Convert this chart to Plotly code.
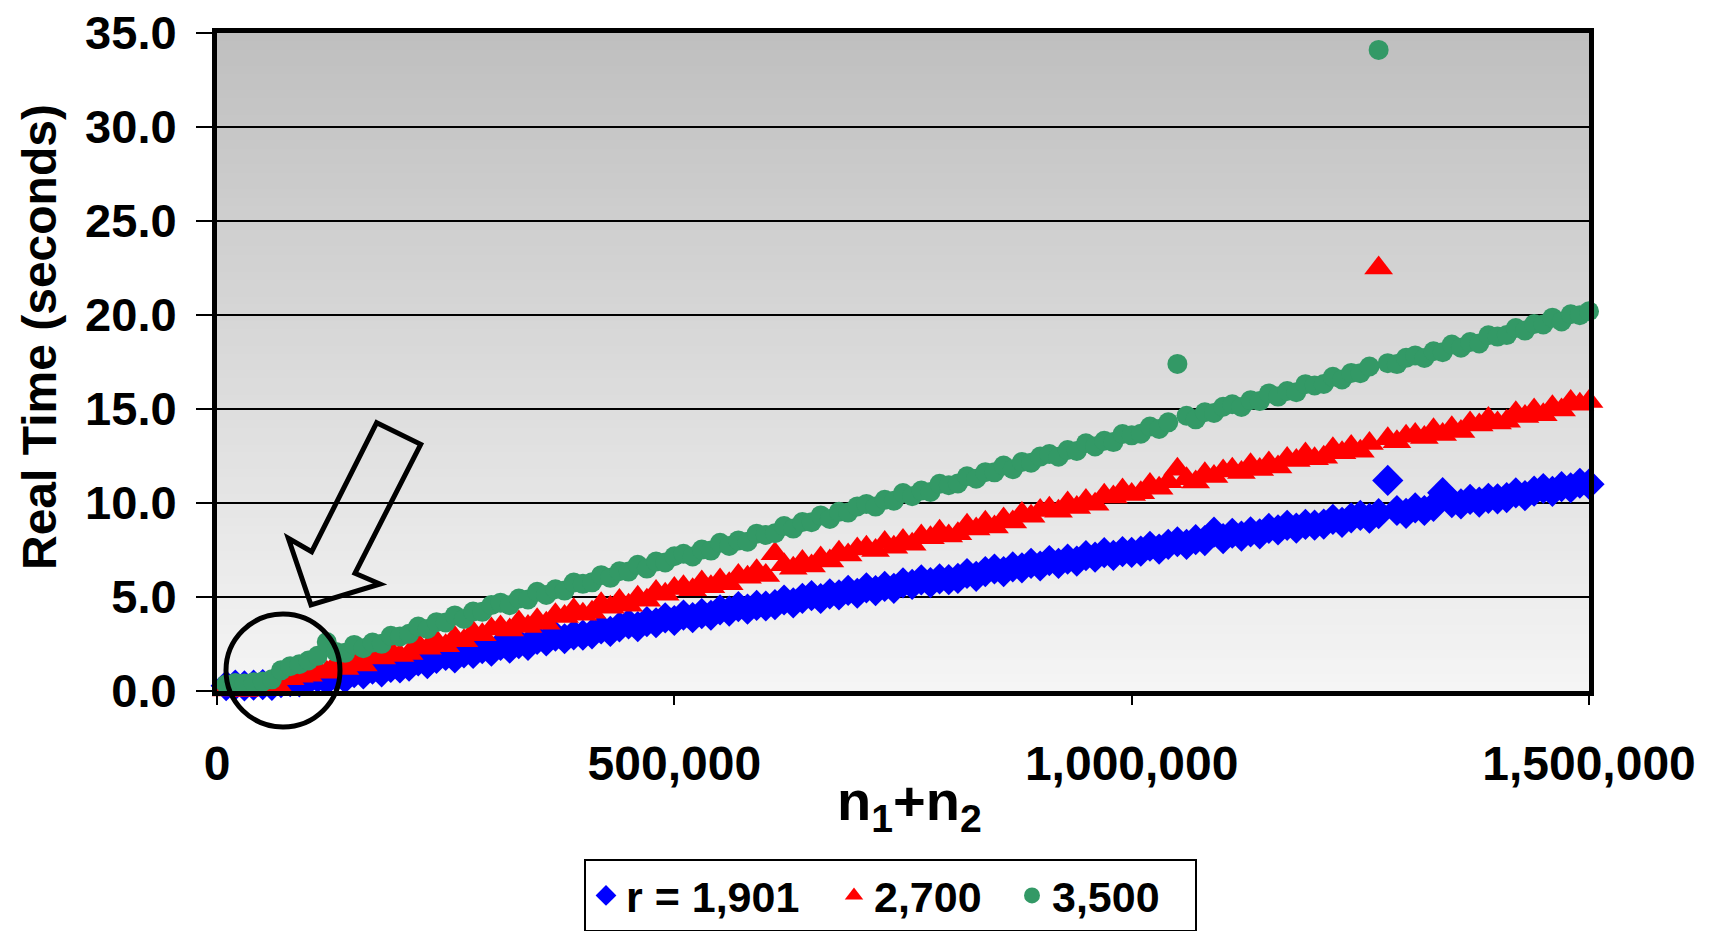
import plotly.graph_objects as go

# Problem size n1+n2, sampled every 10,000
n_sizes = list(range(10000, 1500001, 10000))

# Real time in seconds for each value of r
time_r1901 = [
    0.28, 0.32, 0.27, 0.31, 0.34, 0.30, 0.45, 0.50, 0.49, 0.58,
    0.72, 0.56, 0.79, 0.68, 0.97, 0.91, 1.16, 1.02, 1.25, 1.23,
    1.32, 1.60, 1.46, 1.73, 1.89, 1.76, 2.03, 2.00, 2.25, 2.12,
    2.42, 2.28, 2.52, 2.43, 2.74, 2.66, 2.92, 2.78, 2.99, 2.97,
    3.04, 3.30, 3.17, 3.41, 3.57, 3.42, 3.69, 3.63, 3.89, 3.75,
    4.04, 3.90, 4.12, 4.03, 4.32, 4.25, 4.49, 4.35, 4.55, 4.52,
    4.59, 4.84, 4.69, 4.93, 5.07, 4.92, 5.17, 5.11, 5.35, 5.20,
    5.49, 5.34, 5.56, 5.46, 5.75, 5.67, 5.91, 5.76, 5.96, 5.92,
    5.99, 6.25, 6.10, 6.35, 6.49, 6.35, 6.60, 6.55, 6.79, 6.65,
    6.94, 6.79, 7.01, 6.91, 7.20, 7.12, 7.36, 7.21, 7.41, 7.37,
    7.44, 7.70, 7.55, 7.80, 7.94, 7.80, 8.05, 8.00, 8.45, 8.10,
    8.39, 8.24, 8.46, 8.36, 8.65, 8.57, 8.81, 8.66, 8.86, 8.82,
    8.88, 9.13, 8.97, 9.21, 9.34, 9.19, 9.43, 11.20, 9.60, 9.45,
    9.74, 9.60, 9.82, 10.55, 10.02, 9.95, 10.19, 10.05, 10.25, 10.22,
    10.29, 10.54, 10.39, 10.63, 10.77, 10.62, 10.87, 10.81, 11.05, 11.00,
]

time_r2700 = [
    0.05, 0.06, 0.03, 0.08, 0.06, 0.09, 0.07, 0.65, 0.78, 0.84,
    1.13, 1.00, 1.43, 1.20, 1.56, 1.38, 1.84, 1.76, 2.12, 1.89,
    2.00, 2.47, 2.28, 2.65, 2.41, 2.84, 2.67, 3.13, 2.99, 3.30,
    3.41, 3.25, 3.67, 3.43, 3.79, 3.60, 4.06, 3.96, 4.32, 4.08,
    4.19, 4.64, 4.45, 4.81, 4.56, 4.99, 4.83, 5.29, 5.14, 5.45,
    5.55, 5.38, 5.80, 5.55, 5.90, 5.70, 6.15, 6.05, 6.40, 6.15,
    7.30, 6.72, 6.53, 6.89, 6.65, 7.08, 6.92, 7.38, 7.24, 7.55,
    7.65, 7.48, 7.90, 7.65, 8.00, 7.80, 8.25, 8.15, 8.50, 8.25,
    8.36, 8.81, 8.62, 8.97, 8.73, 9.15, 8.99, 9.44, 9.30, 9.60,
    9.72, 9.56, 10.00, 9.76, 10.13, 9.94, 10.41, 10.32, 10.69, 10.45,
    10.55, 10.99, 10.79, 11.13, 11.80, 11.29, 11.12, 11.56, 11.41, 11.70,
    11.80, 11.62, 12.04, 11.78, 12.13, 11.92, 12.37, 12.26, 12.61, 12.35,
    12.44, 12.88, 12.67, 13.01, 12.75, 13.16, 22.50, 13.42, 13.26, 13.55,
    13.65, 13.48, 13.90, 13.65, 14.00, 13.80, 14.25, 14.15, 14.50, 14.25,
    14.35, 14.80, 14.60, 14.95, 14.70, 15.12, 14.95, 15.40, 15.25, 15.40,
]

time_r3500 = [
    0.35, 0.42, 0.40, 0.47, 0.50, 0.62, 1.10, 1.32, 1.42, 1.62,
    1.87, 2.60, 2.08, 2.03, 2.45, 2.28, 2.58, 2.51, 2.94, 2.90,
    3.04, 3.43, 3.30, 3.66, 3.65, 4.02, 3.83, 4.23, 4.21, 4.57,
    4.70, 4.56, 4.92, 4.87, 5.28, 5.11, 5.41, 5.34, 5.77, 5.70,
    5.78, 6.16, 6.02, 6.37, 6.35, 6.71, 6.51, 6.89, 6.84, 7.17,
    7.30, 7.16, 7.52, 7.47, 7.88, 7.71, 8.01, 7.94, 8.37, 8.30,
    8.39, 8.77, 8.64, 8.99, 8.98, 9.34, 9.15, 9.53, 9.49, 9.82,
    9.95, 9.81, 10.17, 10.12, 10.53, 10.36, 10.66, 10.59, 11.02, 10.95,
    11.04, 11.42, 11.29, 11.64, 11.63, 11.99, 11.80, 12.18, 12.14, 12.47,
    12.60, 12.46, 12.82, 12.77, 13.18, 13.01, 13.31, 13.24, 13.67, 13.60,
    13.69, 14.07, 13.94, 14.29, 17.40, 14.64, 14.45, 14.83, 14.79, 15.12,
    15.25, 15.11, 15.47, 15.42, 15.83, 15.66, 15.96, 15.89, 16.32, 16.25,
    16.33, 16.71, 16.57, 16.92, 16.90, 17.26, 34.10, 17.44, 17.39, 17.72,
    17.85, 17.71, 18.07, 18.02, 18.43, 18.26, 18.56, 18.49, 18.92, 18.85,
    18.93, 19.31, 19.17, 19.52, 19.50, 19.86, 19.66, 20.04, 19.99, 20.20,
]

series_names = ["r = 1,901", "2,700", "3,500"]
x_tick_values = [0, 500000, 1000000, 1500000]
x_tick_labels = ["0", "500,000", "1,000,000", "1,500,000"]

FONT = "Liberation Sans, Arial, sans-serif"

fig = go.Figure()

styles = [
    (time_r1901, "diamond", "#0000FF", 24, 203),
    (time_r2700, "triangle-up", "#FF0000", 25, 133),
    (time_r3500, "circle", "#339966", 20, 138),
]
for name, (values, symbol, color, size, lw) in zip(series_names, styles):
    fig.add_trace(go.Scatter(
        x=n_sizes, y=values, name=name, mode="markers",
        marker=dict(symbol=symbol, color=color, size=size, line=dict(width=0)),
        cliponaxis=False, legendwidth=lw,
    ))

# Vertical grey gradient behind the plotting area; each band runs to the top
# so neighbouring bands overlap instead of leaving seams.
shapes = []
bands = 80
top_rgb, bottom_rgb = 191, 245
for i in range(bands):
    g = round(bottom_rgb + (top_rgb - bottom_rgb) * (i + 0.5) / bands)
    shapes.append(dict(
        type="rect", xref="x domain", yref="y domain",
        x0=0, x1=1, y0=i / bands, y1=1,
        fillcolor=f"rgb({g},{g},{g})", line=dict(width=0), layer="below",
    ))

# Plot-area pixel frame used to place the callout drawings
L, R, T, B = 217, 1589, 33, 691


def px(xp, yp):
    return (xp - L) / (R - L), (B - yp) / (B - T)


# Circle around the small-size region
cx0, cy1 = px(226, 727)
cx1, cy0 = px(340, 614)
shapes.append(dict(type="circle", xref="paper", yref="paper",
                   x0=cx0, x1=cx1, y0=cy1, y1=cy0,
                   line=dict(color="black", width=5), layer="above"))

# Block arrow pointing at the circled region
arrow_px = [(376.7, 422.7), (420.7, 444.3), (355.0, 573.3), (380.0, 584.0),
            (311.0, 605.0), (288.3, 538.3), (311.7, 551.7)]
pts = [px(a, b) for a, b in arrow_px]
path = "M " + " L ".join(f"{a:.5f},{b:.5f}" for a, b in pts) + " Z"
shapes.append(dict(type="path", xref="paper", yref="paper", path=path,
                   line=dict(color="black", width=5), layer="above"))

fig.update_layout(
    width=1711, height=931,
    margin=dict(l=L, r=1711 - R, t=T, b=931 - B, autoexpand=False),
    paper_bgcolor="white", plot_bgcolor="rgba(0,0,0,0)",
    font=dict(family=FONT, color="black", weight="bold"),
    shapes=shapes,
    showlegend=True,
    legend=dict(
        orientation="h", x=px(584, 0)[0], xanchor="left",
        y=px(0, 859)[1], yanchor="top",
        bgcolor="white", bordercolor="black", borderwidth=2,
        font=dict(family=FONT, size=43, color="black", weight="bold"),
        itemsizing="trace",
    ),
    annotations=[
        dict(text="Real Time (seconds)", xref="paper", yref="paper",
             x=px(40, 0)[0], y=px(0, 337)[1], xanchor="center", yanchor="middle",
             textangle=-90, showarrow=False,
             font=dict(family=FONT, size=48, weight="bold")),
        dict(text="n<sub>1</sub>+n<sub>2</sub>", xref="paper", yref="paper",
             x=px(910, 0)[0], y=px(0, 805)[1], xanchor="center", yanchor="middle",
             showarrow=False,
             font=dict(family=FONT, size=56, weight="bold")),
    ],
)

fig.update_xaxes(
    range=[0, 1500000], tickvals=x_tick_values, ticktext=x_tick_labels,
    showgrid=False, zeroline=False, automargin=False,
    showline=True, mirror=True, linecolor="black", linewidth=5,
    ticks="outside", ticklen=9, tickwidth=2, tickcolor="black",
    ticklabelstandoff=17,
    tickfont=dict(family=FONT, size=48, weight="bold"),
)
fig.update_yaxes(
    range=[0, 35], dtick=5, tickformat=".1f",
    showgrid=True, gridcolor="black", gridwidth=2, zeroline=False, automargin=False,
    showline=True, mirror=True, linecolor="black", linewidth=5,
    ticks="outside", ticklen=16, tickwidth=2, tickcolor="black",
    ticklabelstandoff=10,
    tickfont=dict(family=FONT, size=47, weight="bold"),
)

fig.write_html("out.html")
